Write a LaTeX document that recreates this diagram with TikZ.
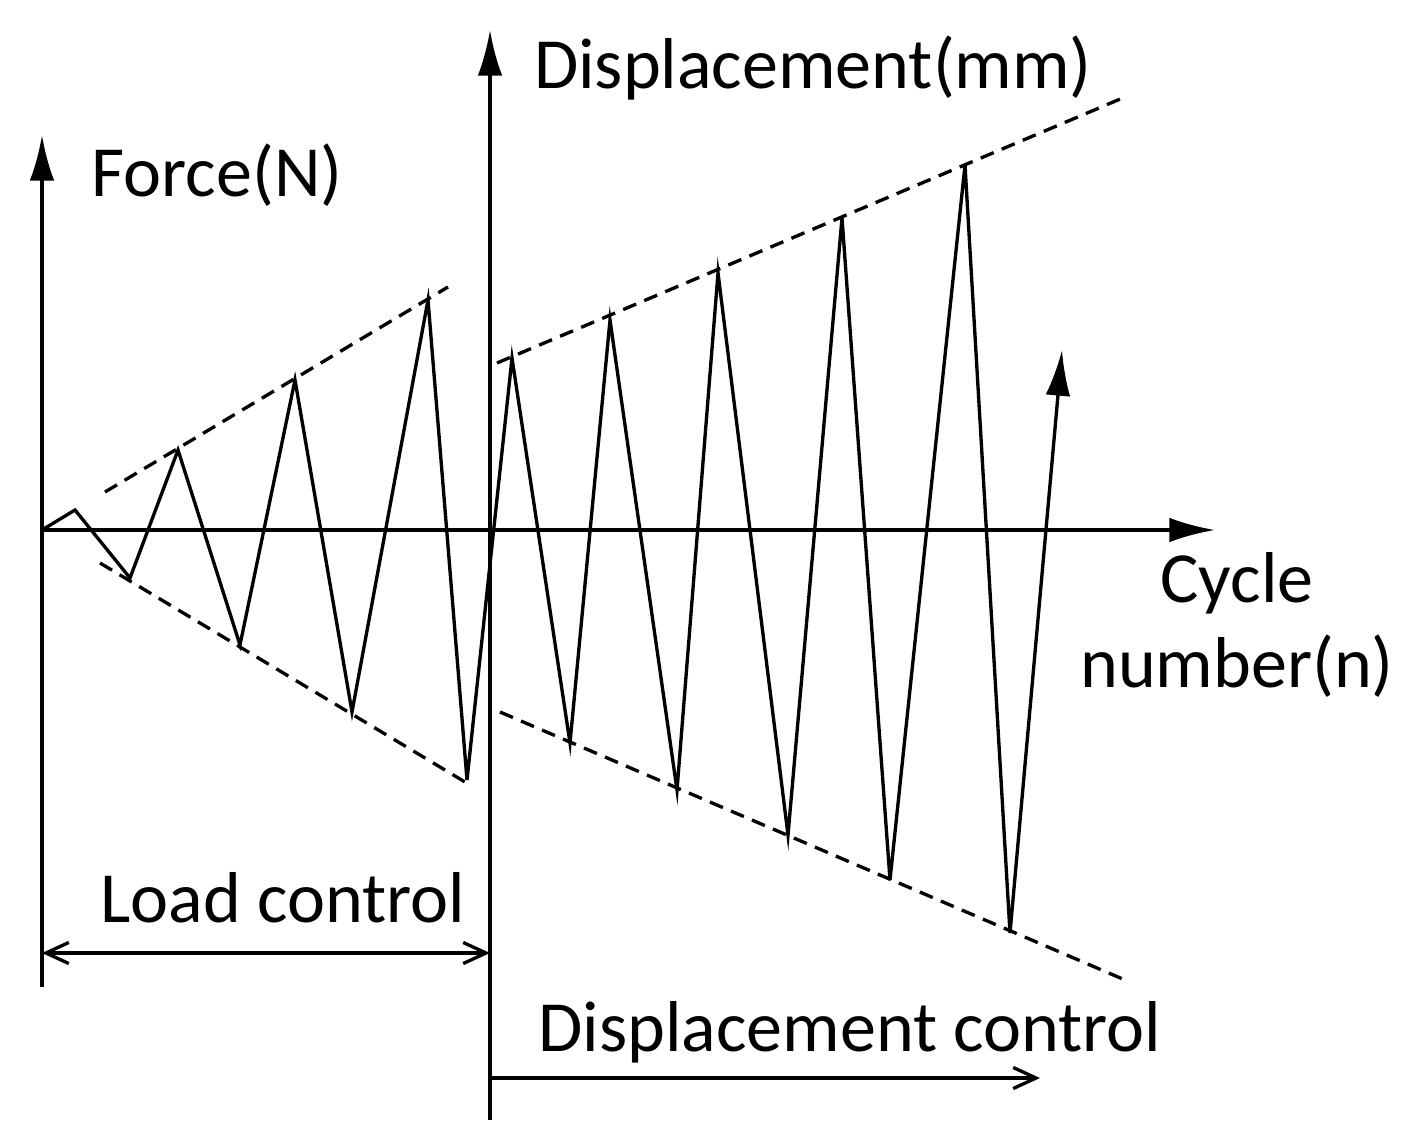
\documentclass[tikz,border=0pt]{standalone}
\usepackage{fontspec}
\setmainfont{Carlito}
\usetikzlibrary{arrows.meta}
\begin{document}
\begin{tikzpicture}[x=0.02cm,y=-0.02cm,
  ax/.style={line width=2pt,-{Latex[length=26pt,width=14pt]}},
  zz/.style={line width=1.9pt},
  env/.style={line width=1.9pt,dash pattern=on 8pt off 5pt},
  span/.style={line width=1.9pt,-{Straight Barb[length=13pt,width=12pt]}},
  lbl/.style={font=\fontsize{41}{46}\selectfont,inner sep=0pt}]
\useasboundingbox (0,0) rectangle (1419,1148);
% axes
\coordinate (lb) at (42,987); \coordinate (lt) at (42,135);
\coordinate (mb) at (490,1120); \coordinate (mt) at (490,30);
\coordinate (hl) at (42,530); \coordinate (hr) at (1215,530);
\draw[ax] (lb) -- (lt);
\draw[ax] (mb) -- (mt);
\draw[ax] (hl) -- (hr);
% zigzag
\draw[zz,-{Latex[length=26pt,width=14pt]}] (42,530)--(75,510)--(130,578)--(178,450)--(240,645)--(295,380)--(352,712)--(428,300)--(467,780)--(512,358)--(570,743)--(610,320)--(677,790)--(718,273)--(788,835)--(842,218)--(890,880)--(965,165)--(1010,933)--(1062,350);
% envelopes
\coordinate (e1a) at (105,492); \coordinate (e1b) at (448,287);
\coordinate (e2a) at (100,563); \coordinate (e2b) at (470,785);
\coordinate (e3a) at (497,363); \coordinate (e3b) at (1125,97);
\coordinate (e4a) at (500,712); \coordinate (e4b) at (1125,980);
\draw[env] (e1a)--(e1b); \draw[env] (e2a)--(e2b);
\draw[env] (e3a)--(e3b); \draw[env] (e4a)--(e4b);
% labels
\node[lbl] (f) at (217,175) {Force(N)};
\node[lbl] (d) at (813,68) {Displacement(mm)};
\node[lbl,align=center] (c) at (1237,625) {Cycle\\[2pt]number(n)};
\node[lbl] (lc) at (283,898) {Load control};
\node[lbl] (dc) at (850,1032) {Displacement control};
% control spans
\coordinate (s1) at (42,953); \coordinate (s2) at (490,953);
\coordinate (s3) at (490,1078); \coordinate (s4) at (1040,1078);
\draw[span,{Straight Barb[length=13pt,width=12pt]}-{Straight Barb[length=13pt,width=12pt]}] (s1)--(s2);
\draw[span] (s3)--(s4);
\end{tikzpicture}
\end{document}
